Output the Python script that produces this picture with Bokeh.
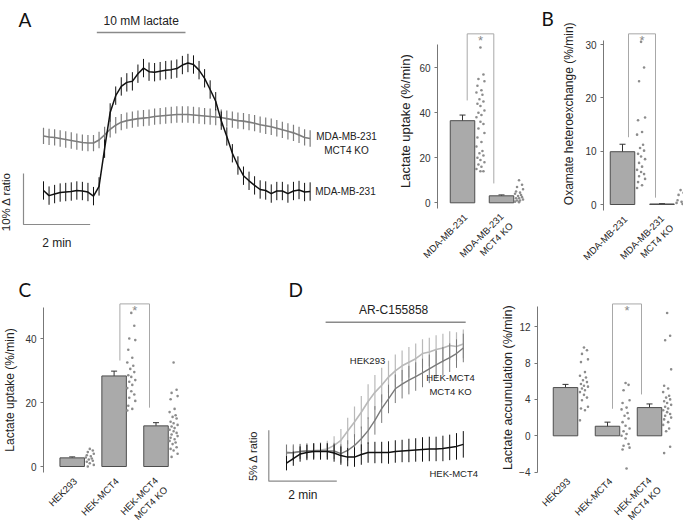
import math
from bokeh.plotting import figure
from bokeh.layouts import row, column
from bokeh.models import (ColumnDataSource, Label, Whisker, TeeHead, LinearAxis, FixedTicker,
                          Range1d)
from bokeh.embed import file_html
from bokeh.resources import INLINE

# ------------------------------------------------------------------ data
# Panel A: time courses (10 s sampling), % change of sensor ratio
A_STEP_MIN = 1 / 6
A_MDA = [0.0, -1.0, -0.7, -0.4, -0.3, -0.2, 0.0, -0.1, -0.3, -1.1, 0.8, 8.2, 15.3, 18.6, 20.4, 21.2,
         21.4, 22.9, 24.0, 23.3, 23.2, 23.4, 23.6, 23.7, 23.9, 24.6, 25.0, 24.7, 23.6, 22.0, 19.8, 17.5,
         13.7, 10.6, 7.3, 4.9, 2.9, 1.9, 1.0, 0.2, 0.0, -0.6, -0.1, -0.1, -0.6, -0.1, 0.1, -0.3, -0.2]
A_KO = [10.7, 10.5, 10.4, 10.2, 10.0, 9.8, 9.6, 9.4, 9.3, 9.3, 9.9, 10.9, 12.0, 12.8, 13.4, 13.7,
        13.9, 14.1, 14.2, 14.3, 14.5, 14.6, 14.7, 14.8, 14.9, 14.9, 14.9, 14.8, 14.7, 14.6, 14.5, 14.4,
        14.3, 14.1, 13.9, 13.7, 13.6, 13.4, 13.2, 12.9, 12.7, 12.5, 12.2, 11.9, 11.6, 11.3, 10.9, 10.4, 10.2]
A_MDA_SEM = [1.8] * len(A_MDA)
A_KO_SEM = [1.6] * len(A_KO)
A_LACTATE = (1.6, 4.26)          # minutes of 10 mM lactate

A_GROUPS = ["MDA-MB-231", "MDA-MB-231\nMCT4 KO"]
A_MEAN = [36.5, 3.1]
A_SEM = [2.5, 0.4]
A_CELLS = [
    [69, 57, 55, 54, 52, 50, 49, 48, 46, 45, 44, 43, 41, 40, 39, 38, 36, 35, 33, 31, 29, 27, 25, 23,
     22, 21, 20, 19, 18, 17, 16, 15, 14, 14],
    [10, 8, 7, 6, 5, 4.5, 4, 3.5, 3, 2.5, 2, 2, 1.5, 1, 1, 0.5, 0.3],
]

B_GROUPS = ["MDA-MB-231", "MDA-MB-231\nMCT4 KO"]
B_MEAN = [9.9, 0.1]
B_SEM = [1.4, 0.06]
B_CELLS = [
    [30.5, 25.7, 23.1, 16.3, 15.8, 13.6, 13.1, 11.2, 10.6, 10.1, 9.5, 9.0, 8.5, 7.8, 7.1, 6.5, 6.1,
     5.7, 5.3, 4.8, 4.2, 3.6, 3.1],
    [2.7, 2.2, 1.8, 1.2, 0.8, 0.5, 0.3, 0.1],
]

C_GROUPS = ["HEK293", "HEK-MCT4", "HEK-MCT4\nMCT4 KO"]
C_MEAN = [2.7, 28.3, 12.7]
C_SEM = [0.3, 1.5, 1.0]
C_CELLS = [
    [5.5, 5, 4.5, 4, 3.5, 3.2, 2.8, 2.5, 2.2, 1.8, 1.5, 1.0, 0.5, 0],
    [48, 44, 40, 39.5, 36.5, 34, 32.5, 31.5, 30.5, 29.5, 28.5, 28, 27, 26.5, 25.5, 24.5, 23.5, 22.5,
     21.5, 20.5, 19, 18, 17.5],
    [32.5, 24, 23, 22, 21, 18, 17, 16, 15.5, 15, 14, 13.5, 13, 12.5, 12, 11.5, 11, 10.5, 10, 9.5, 9,
     8.5, 8, 7.5, 7, 6, 5.5, 5, 4, 3],
]

# Panel D: time courses (12 s sampling)
D_STEP_MIN = 0.2
D_HEK = [-0.05, -0.15, 0.0, 0.05, 0.1, 0.15, 0.25, 0.6, 1.1, 2.0, 2.9, 3.85, 4.9, 5.8, 6.5, 7.3, 7.9,
         8.4, 8.75, 9.1, 9.6, 9.75, 10.0, 10.15, 10.4, 10.3, 10.55]
D_KO = [-0.15, -0.1, 0.0, 0.05, 0.05, 0.05, 0.05, 0.05, -0.2, 0.1, 0.6, 1.25, 2.05, 3.05, 4.2, 5.15,
        6.15, 6.6, 7.0, 7.35, 7.7, 8.1, 8.5, 8.85, 9.2, 9.6, 10.15]
D_MCT4 = [-1.15, -0.7, -0.25, -0.1, 0.0, 0.0, 0.0, -0.15, -0.4, -0.55, -0.55, -0.3, -0.1, -0.1, -0.1,
          -0.1, 0.0, 0.05, 0.1, 0.15, 0.2, 0.25, 0.25, 0.3, 0.4, 0.5, 0.7]
D_HEK_SEM = [0.75, 0.75, 0.7, 0.7, 0.7, 0.75, 0.8, 0.9, 1.1, 1.3, 1.5, 1.6, 1.7, 1.7, 1.7, 1.6, 1.6,
             1.5, 1.5, 1.5, 1.4, 1.4, 1.4, 1.4, 1.4, 1.4, 1.4]
D_KO_SEM = [0.8, 0.8, 0.75, 0.75, 0.75, 0.75, 0.8, 0.8, 0.9, 1.0, 1.1, 1.2, 1.3, 1.4, 1.4, 1.4, 1.4,
            1.4, 1.4, 1.4, 1.4, 1.4, 1.4, 1.4, 1.4, 1.4, 1.4]
D_MCT4_SEM = [0.7, 0.7, 0.75, 0.75, 0.8, 0.8, 0.8, 0.85, 0.9, 0.9, 0.95, 1.0, 1.0, 1.05, 1.05, 1.1,
              1.1, 1.1, 1.15, 1.15, 1.2, 1.2, 1.2, 1.25, 1.25, 1.3, 1.3]
D_DRUG = (1.15, 5.27)            # minutes of AR-C155858

D_GROUPS = ["HEK293", "HEK-MCT4", "HEK-MCT4\nMCT4 KO"]
D_MEAN = [5.3, 1.05, 3.1]
D_SEM = [0.35, 0.45, 0.4]
D_CELLS = [
    [9.7, 9.4, 9.0, 8.4, 8.1, 7.0, 6.6, 6.4, 6.1, 5.9, 5.7, 5.5, 5.4, 5.2, 5.0, 4.8, 4.5, 4.2, 3.9,
     3.2, 3.0, 2.8, 1.7],
    [5.8, 5.6, 5.0, 3.9, 3.6, 3.1, 2.9, 2.5, 2.2, 1.9, 1.5, 1.1, 0.8, 0.5, 0.2, 0, -0.3, -0.9, -1.1,
     -1.3, -1.5, -3.6],
    [13.5, 11.0, 10.5, 7.3, 5.5, 5.2, 4.8, 4.4, 4.2, 4.0, 3.8, 3.6, 3.4, 3.2, 3.0, 2.8, 2.6, 2.4, 2.2,
     2.0, 1.8, 1.5, 1.2, 0.8, 0.5, -1.2, -1.9],
]

# ------------------------------------------------------------------ style
FONT = "Liberation Sans"
LETTER_FONT = "Lato"
TXT = "#222222"
BAR_FILL = "#aaaaaa"
BAR_LINE = "#4d4d4d"
DOT = "#8c8c8c"
BRACKET = "#a8a8a8"
SCALE = "#8a8a8a"
JIT_PX = [0, 3, -2, 4, -3, 1, -4, 2, -1, 3, -3, 0, 4, -2, 1, -4]
NBSP = "\u00a0"


def new_fig(box, xmap, ymap):
    """Figure whose plotting frame fills the whole canvas; xmap/ymap give the
    pixel position of data 0 and pixels per data unit."""
    x0, x1, y0, y1 = box
    c0, s = xmap
    r0, py = ymap
    p = figure(width=x1 - x0, height=y1 - y0, title=None,
               x_range=Range1d((x0 - c0) / s, (x1 - c0) / s),
               y_range=Range1d((r0 - y1) / py, (r0 - y0) / py),
               min_border=0, x_axis_location=None, y_axis_location=None,
               output_backend="svg", toolbar_location=None, tools="",
               outline_line_color=None)
    p.grid.visible = False
    fx = lambda rx: (rx - c0) / s
    fy = lambda ry: (r0 - ry) / py
    return p, fx, fy


def txt(p, x, y, text, size, color=TXT, align="center", baseline="middle", angle=0.0,
        font=FONT, **kw):
    p.add_layout(Label(x=x, y=y, text=text, text_font=font, text_font_size=f"{size}px",
                       text_color=color, text_align=align, text_baseline=baseline,
                       angle=angle, **kw))


def letter(p, fx, fy, text, rx, ry):
    txt(p, fx(rx), fy(ry), text, 19, color="#111111", align="left", baseline="alphabetic",
        font=LETTER_FONT)


def trace(p, step, vals, sem, color, lw=1.5, ew=1.0):
    t = [k * step for k in range(len(vals))]
    lo = [v - e for v, e in zip(vals, sem)]
    hi = [v + e for v, e in zip(vals, sem)]
    p.segment(x0=t, y0=lo, x1=t, y1=hi, line_color=color, line_width=ew)
    p.line(t, vals, line_color=color, line_width=lw)


def bar_panel(box, axis_x, xmap, ymap, groups, means, sems, cells, ticks, bounds, dot_off,
              pair, brk, ylabel, ylab_size, ylab_standoff, ylab_shift, axis_bottom_ref):
    p, fx, fy = new_fig(box, xmap, ymap)
    s = xmap[1]
    py = ymap[1]
    title = NBSP * ylab_shift + ylabel if ylab_shift >= 0 else ylabel + NBSP * (-ylab_shift)
    ax = LinearAxis(ticker=FixedTicker(ticks=ticks), bounds=bounds, fixed_location=fx(axis_x),
                    major_tick_out=3, major_tick_in=0, minor_tick_out=0, minor_tick_in=0,
                    major_label_standoff=4, axis_line_color="#777777",
                    major_tick_line_color="#777777", major_label_text_font=FONT,
                    major_label_text_font_size="10px", major_label_text_color="#333333",
                    axis_label=title, axis_label_text_font=FONT,
                    axis_label_text_font_size=f"{ylab_size}px",
                    axis_label_text_font_style="normal", axis_label_text_color=TXT,
                    axis_label_standoff=ylab_standoff)
    p.add_layout(ax, "left")
    xs = list(range(len(groups)))
    p.vbar(x=xs, top=means, bottom=0, width=24.5 / s, fill_color=BAR_FILL,
           line_color=BAR_LINE, line_width=1)
    src = ColumnDataSource(dict(x=xs, lo=[m - e for m, e in zip(means, sems)],
                                hi=[m + e for m, e in zip(means, sems)]))
    p.add_layout(Whisker(base="x", lower="lo", upper="hi", source=src, line_color="#333333",
                         line_width=1,
                         upper_head=TeeHead(size=6, line_color="#333333", line_width=1),
                         lower_head=TeeHead(size=6, line_color="#333333", line_width=1)))
    for i, vals in enumerate(cells):
        dx = [i + dot_off[i] + JIT_PX[k % len(JIT_PX)] / s for k in range(len(vals))]
        p.scatter(dx, vals, size=2.6, fill_color=DOT, line_color=None)
    # significance bracket
    a, b = pair
    lpx, rpx, gl, gr, gt = brk
    xl = a + lpx / s
    xr = b + rpx / s
    yl = means[a] + sems[a] + gl / py
    yr = means[b] + sems[b] + gr / py
    yt = max(max(cells[a]), max(cells[b])) + gt / py
    p.line([xl, xl, xr, xr], [yl, yt, yt, yr], line_color=BRACKET, line_width=1)
    txt(p, (xl + xr) / 2, yt, "*", 13, color="#8a8a8a", baseline="alphabetic", y_offset=-7)
    # rotated group labels under bars
    ybot = fy(axis_bottom_ref)
    for i, g in enumerate(groups):
        two = "\n" in g
        txt(p, i, ybot, g, 9.5, align="right", baseline="middle", angle=math.pi / 4,
            x_offset=5 if two else 3, y_offset=-11 if two else -7)
    return p, fx, fy


# ------------------------------------------------------------------ panel A traces
pA, fxA, fyA = new_fig((0, 385, 0, 270), (43, 33.33), (190, 5.1))
trace(pA, A_STEP_MIN, A_KO, A_KO_SEM, "#7d7d7d", lw=1.6, ew=1.2)
trace(pA, A_STEP_MIN, A_MDA, A_MDA_SEM, "#111111", lw=1.5, ew=1.0)
yl = fyA(32)
pA.line(list(A_LACTATE), [yl, yl], line_color=SCALE, line_width=1.5)
txt(pA, sum(A_LACTATE) / 2, yl, "10 mM lactate", 12, baseline="bottom", y_offset=5)
# scale bar: 2 min x 10 %
sx0 = fxA(23)
sy0 = fyA(224)
pA.line([sx0, sx0, sx0 + 2], [sy0 + 10, sy0, sy0], line_color=SCALE, line_width=1.2)
txt(pA, fxA(5.5), fyA(201), "10% \u0394 ratio", 11.5, angle=math.pi / 2)
txt(pA, sx0 + 1, sy0, "2 min", 12, baseline="top", y_offset=-11)
tend = (len(A_MDA) - 1) * A_STEP_MIN
txt(pA, tend + 0.15, A_MDA[-1], "MDA-MB-231", 10, align="left")
txt(pA, fxA(346), A_KO[-1] - 1.0, "MDA-MB-231\nMCT4 KO", 10, align="center")
letter(pA, fxA, fyA, "A", 18, 18.5)

# ------------------------------------------------------------------ panel A bars
pAb, fxAb, fyAb = bar_panel((385, 562, 0, 270), 437, (462, 39), (202.3, 2.25),
                            A_GROUPS, A_MEAN, A_SEM, A_CELLS, [0, 20, 40, 60], (-2.5, 70.4),
                            [0.46, 0.45], (0, 1), (4.7, -7.7, 14.6, 11.5, 13.7),
                            "Lactate uptake (%/min)", 13, 3, 3, 208)
letter(pAb, fxAb, fyAb, "B", 541, 17.5)

# ------------------------------------------------------------------ panel B bars
pB, _, _ = bar_panel((562, 683, 0, 270), 603, (622, 39.5), (204, 5.333),
                     B_GROUPS, B_MEAN, B_SEM, B_CELLS, [0, 10, 20, 30], (-1.1, 30.8),
                     [0.47, 0.47], (0, 1), (6, -6.5, 7, 6, 8),
                     "Oxamate heteroexchange (%/min)", 12, 6, 7, 210)

# ------------------------------------------------------------------ panel C bars
pC, fxC, fyC = bar_panel((0, 240, 270, 524), 43, (71.7, 41.9), (466, 3.2),
                         C_GROUPS, C_MEAN, C_SEM, C_CELLS, [0, 20, 40], (-1.8, 49.8),
                         [0.42, 0.41, 0.42], (1, 2), (5.8, -6.5, 10.6, 15, 9),
                         "Lactate uptake (%/min)", 12, 5, 0, 472)
letter(pC, fxC, fyC, "C", 18, 288.5)

# ------------------------------------------------------------------ panel D traces
pD, fxD, fyD = new_fig((240, 480, 270, 524), (286, 34), (451, 10.2))
trace(pD, D_STEP_MIN, D_HEK, D_HEK_SEM, "#b9b9b9", lw=1.6, ew=1.2)
trace(pD, D_STEP_MIN, D_KO, D_KO_SEM, "#7a7a7a", lw=1.4, ew=1.0)
trace(pD, D_STEP_MIN, D_MCT4, D_MCT4_SEM, "#111111", lw=1.5, ew=1.0)
yd = fyD(321.7)
pD.line(list(D_DRUG), [yd, yd], line_color=SCALE, line_width=1.5)
txt(pD, sum(D_DRUG) / 2 - 0.06, yd, "AR-C155858", 12, baseline="bottom", y_offset=5)
dx0 = fxD(268.3)
dy0 = fyD(480.7)
pD.line([dx0, dx0, dx0 + 2], [dy0 + 5, dy0, dy0], line_color=SCALE, line_width=1.2)
txt(pD, fxD(252), dy0 + 2.5, "5% \u0394 ratio", 11, angle=math.pi / 2)
txt(pD, dx0 + 1, dy0, "2 min", 12, baseline="top", y_offset=-7)
txt(pD, fxD(367), fyD(360), "HEK293", 9.5)
txt(pD, fxD(450), fyD(384), "HEK-MCT4\nMCT4 KO", 9.5)
txt(pD, fxD(429), fyD(473), "HEK-MCT4", 9.5, align="left")
letter(pD, fxD, fyD, "D", 288, 288.5)

# ------------------------------------------------------------------ panel D bars
pDb, _, _ = bar_panel((480, 683, 270, 524), 537, (565, 42), (435.3, 9.1),
                      D_GROUPS, D_MEAN, D_SEM, D_CELLS, [-4, 0, 4, 8, 12], (-4, 14.2),
                      [0.44, 0.43, 0.42], (1, 2), (5, -8, 13.4, 9.5, 9),
                      "Lactate accumulation (%/min)", 12.5, 1, 1, 472)

layout = column(row(pA, pAb, pB), row(pC, pD, pDb))
open("out.html", "w").write(file_html(layout, INLINE))
